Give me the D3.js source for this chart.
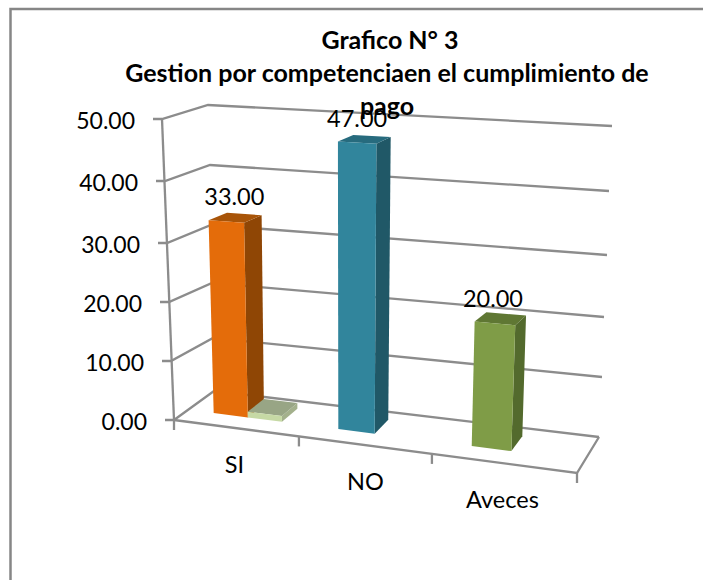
<!DOCTYPE html>
<html>
<head>
<meta charset="utf-8">
<script src="https://d3js.org/d3.v7.min.js"></script>
<style>
html,body {margin:0; padding:0; background:#fff;}
svg {display:block;}
text {font-family:Lato,"Open Sans",sans-serif; fill:#000;}
.grid {fill:none; stroke:#8c8c8c; stroke-width:2.3;}
</style>
</head>
<body>
<svg id="chart" width="703" height="580"></svg>
<script>
var categories=['SI','NO','Aveces'];
var series=['s1','s2'];
var values1=[33,47,20];
var values2=[1,null,null];
var valueTicks=[0,10,20,30,40,50];
var tickLabels=['0.00','10.00','20.00','30.00','40.00','50.00'];
var titleLines=['Grafico N\u00b0 3','Gestion por competenciaen el cumplimiento de','pago'];

// colours per bar: front, side, top
var colors1=[['#e46c0a','#8f4605','#a85408'],['#31859c','#205867','#276b7e'],['#7f9c47','#536a2d','#5f7733']];
var colors2=[['#c6d9a5','#a3b08c','#98a585']];

// corners of the 3d box on screen, one scale pair per vertical edge
function edge(xs,ys) {
  return {x:d3.scaleLinear().domain(valueTicks).range(xs),y:d3.scaleLinear().domain(valueTicks).range(ys)};
}
var frontLeft=edge([174,171,169,167,165,162],[420,361,302,243,181,119]);
var backLeft=edge([214,213,212,211,210,208],[391,338,283,225,165,105]);
var backRight=edge([599,602,604,607,609,612],[437,377,317,255,191,126]);
var frontRight=edge([577,580,583,586,589,593],[473,406,340,274,208,143]);

// category position along the floor, the right side is nearer so it is wider
var uScale=d3.scaleLinear().domain([0,1,2,3]).range([0,0.31,0.64,1]);
var x0=d3.scaleBand().domain(categories).range([0,3]);
var x1=d3.scaleBand().domain(series).range([0,1]).paddingInner(0).paddingOuter(0.8).align(0.47);
var depthFront=0.35,depthBack=0.78;
var labelDx=[8,0,-2];

function project(u,d,v) {
  var s=uScale(u);
  var fx=frontLeft.x(v)+(frontRight.x(v)-frontLeft.x(v))*s;
  var fy=frontLeft.y(v)+(frontRight.y(v)-frontLeft.y(v))*s;
  var bx=backLeft.x(v)+(backRight.x(v)-backLeft.x(v))*s;
  var by=backLeft.y(v)+(backRight.y(v)-backLeft.y(v))*s;
  return [fx+(bx-fx)*d,fy+(by-fy)*d];
}

var svg=d3.select('#chart');
var line=d3.line();

svg.append('path').attr('d',line([[10.5,580],[10.5,9],[703,9]]))
   .attr('fill','none').attr('stroke','#868686').attr('stroke-width',2.5);

// walls and floor
var grid=svg.append('g').attr('class','grid');
valueTicks.forEach(function(v) {
  grid.append('path').attr('d',line([[frontLeft.x(v)-9,frontLeft.y(v)],project(0,0,v),project(0,1,v),project(3,1,v)]));
});
grid.append('path').attr('d',line([project(0,0,0),project(0,0,50)]));
grid.append('path').attr('d',line([project(0,0,0),project(3,0,0),project(3,1,0)]));
d3.range(0,4).forEach(function(u) {
  var p=project(u,0,0);
  grid.append('path').attr('d',line([p,[p[0],p[1]+10]]));
});

function drawBar(cat,ser,v,c) {
  var u0=x0(cat)+x1(ser)*x0.bandwidth();
  var u1=u0+x1.bandwidth()*x0.bandwidth();
  var a=project(u0,depthFront,0),b=project(u1,depthFront,0),e=project(u1,depthBack,0);
  var f=project(u0,depthFront,v),g=project(u1,depthFront,v),h=project(u1,depthBack,v),k=project(u0,depthBack,v);
  var bar=svg.append('g');
  bar.append('path').attr('d',line([b,e,h,g])+'Z').attr('fill',c[1]);
  bar.append('path').attr('d',line([f,g,h,k])+'Z').attr('fill',c[2]);
  bar.append('path').attr('d',line([a,b,g,f])+'Z').attr('fill',c[0]);
}
categories.forEach(function(cat,i) {
  drawBar(cat,'s1',values1[i],colors1[i]);
  if (values2[i]!=null) drawBar(cat,'s2',values2[i],colors2[i]);
});

// value axis labels
var tickText=svg.append('g').attr('font-size',23).attr('text-anchor','end');
valueTicks.forEach(function(v,i) {
  tickText.append('text').attr('x',frontLeft.x(v)-27).attr('y',frontLeft.y(v)+9.5).text(tickLabels[i]);
});

// category labels
var catText=svg.append('g').attr('font-size',23.5).attr('text-anchor','middle');
categories.forEach(function(cat,i) {
  var p=project(x0(cat)+x0.bandwidth()/2,0,0);
  catText.append('text').attr('x',p[0]-(i==1?0:2)).attr('y',p[1]+45).text(cat);
});

// value labels over the bars
var dataText=svg.append('g').attr('font-size',23.5).attr('text-anchor','middle');
categories.forEach(function(cat,i) {
  var u=x0(cat)+(x1('s1')+x1.bandwidth()/2)*x0.bandwidth();
  var p=project(u,depthFront,values1[i]);
  dataText.append('text').attr('x',p[0]+labelDx[i]).attr('y',p[1]-16).text(values1[i].toFixed(2));
});

var title=svg.append('g').attr('font-size',25).attr('font-weight','bold').attr('text-anchor','middle');
titleLines.forEach(function(t,i) {
  title.append('text').attr('x',387+(i==0?3:0)).attr('y',49+i*33).text(t);
});
</script>
</body>
</html>
